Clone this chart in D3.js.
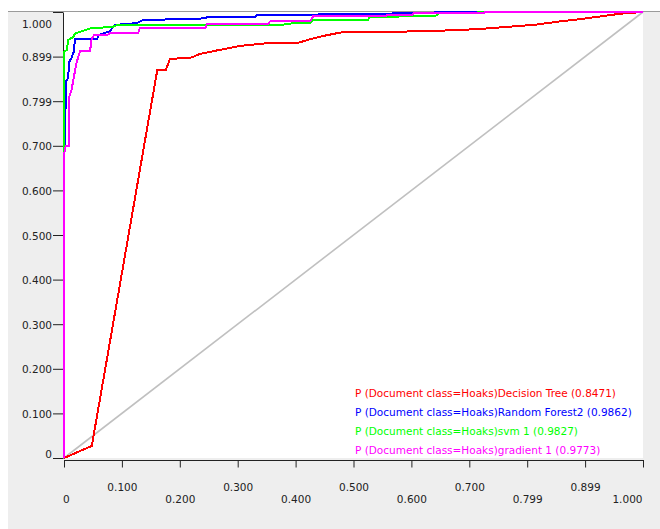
<!DOCTYPE html>
<html>
<head>
<meta charset="utf-8">
<script src="https://cdn.jsdelivr.net/npm/d3@7"></script>
<style>
  html, body { margin: 0; padding: 0; background: #ffffff; }
  svg { display: block; }
  text { font-family: "DejaVu Sans", sans-serif; font-size: 10.5px; }
</style>
</head>
<body>
<svg id="chart" width="660" height="529"></svg>
<script>
// ---- data (false positive rate, true positive rate) ----
const decisionTree = [
  [0,0],[0.048,0.027],[0.161,0.869],[0.176,0.870],[0.183,0.895],[0.218,0.897],
  [0.235,0.906],[0.261,0.913],[0.304,0.924],[0.351,0.930],[0.402,0.930],[0.425,0.939],
  [0.454,0.948],[0.482,0.955],[0.585,0.956],[0.672,0.959],[0.718,0.962],[0.770,0.967],
  [0.817,0.972],[0.857,0.979],[0.891,0.984],[0.926,0.990],[0.960,0.996],[1,1]
];
const randomForest = [
  [0,0],[0.001,0.785],[0.003,0.785],[0.003,0.843],[0.007,0.852],[0.009,0.888],
  [0.013,0.897],[0.017,0.911],[0.019,0.939],[0.057,0.939],[0.060,0.948],[0.079,0.957],
  [0.088,0.971],[0.126,0.975],[0.136,0.982],[0.235,0.985],[0.252,0.989],[0.330,0.989],
  [0.333,0.993],[0.437,0.993],[0.442,0.996],[0.563,0.996],[0.572,0.998],[0.649,0.999],[1,1]
];
const svm = [
  [0,0],[0,0.910],[0.005,0.915],[0.007,0.937],[0.016,0.944],[0.019,0.952],
  [0.045,0.963],[0.085,0.967],[0.092,0.971],[0.390,0.972],[0.394,0.976],[0.425,0.976],
  [0.430,0.982],[0.525,0.982],[0.528,0.989],[0.641,0.991],[0.649,0.998],[0.724,0.999],[1,1]
];
const gradient = [
  [0,0],[0,0.679],[0.003,0.700],[0.009,0.700],[0.009,0.809],[0.013,0.825],
  [0.017,0.854],[0.022,0.888],[0.028,0.913],[0.045,0.913],[0.048,0.941],[0.052,0.948],
  [0.074,0.948],[0.079,0.952],[0.128,0.952],[0.131,0.964],[0.244,0.964],[0.247,0.973],
  [0.352,0.973],[0.356,0.979],[0.425,0.979],[0.430,0.990],[0.554,0.990],[0.558,0.993],
  [0.601,0.993],[0.604,0.997],[0.724,0.997],[0.727,1.0],[1,1]
];
const diagonal = [[0,0],[1,1]];

const seriesNames = [
  "P (Document class=Hoaks)Decision Tree",
  "P (Document class=Hoaks)Random Forest2",
  "P (Document class=Hoaks)svm 1",
  "P (Document class=Hoaks)gradient 1"
];
const seriesAuc = ["0.8471", "0.9862", "0.9827", "0.9773"];
const seriesColors = ["#ff0000", "#0000ff", "#00ff00", "#ff00ff"];
const seriesData = [decisionTree, randomForest, svm, gradient];

const tickValues = [0, 0.1, 0.2, 0.3, 0.4, 0.5, 0.6, 0.7, 0.8, 0.9, 1.0];
const xTickLabels = ["0","0.100","0.200","0.300","0.400","0.500","0.600","0.700","0.799","0.899","1.000"];
const yTickLabels = ["0","0.100","0.200","0.300","0.400","0.500","0.600","0.700","0.799","0.899","1.000"];

// ---- layout ----
const svg = d3.select("#chart");
const W = 660, H = 529;
const plot = { left: 64, right: 643, top: 12, bottom: 458 };

const x = d3.scaleLinear().domain([0, 1]).range([plot.left, plot.right]);
const y = d3.scaleLinear().domain([0, 1]).range([plot.bottom, plot.top]);

// panel background
svg.append("rect").attr("x", 0).attr("y", 0).attr("width", W).attr("height", H).attr("fill", "#ffffff");
svg.append("rect").attr("x", 8).attr("y", 12).attr("width", W - 8).attr("height", H - 12).attr("fill", "#eeeeee");
svg.append("rect").attr("x", plot.left).attr("y", plot.top)
  .attr("width", plot.right - plot.left).attr("height", plot.bottom - plot.top).attr("fill", "#ffffff");
// top border
svg.append("line").attr("x1", 8).attr("x2", W).attr("y1", 11.5).attr("y2", 11.5)
  .attr("stroke", "#9a9a9a").attr("stroke-width", 1);

// y axis
const yAxis = d3.axisLeft(y).tickValues(tickValues)
  .tickFormat((d, i) => yTickLabels[i]).tickSize(10).tickSizeOuter(0).tickPadding(1);
const gy = svg.append("g").attr("transform", "translate(63,0)").call(yAxis);
gy.selectAll("path, line").attr("stroke", "#222");
gy.selectAll("text").attr("fill", "#222").attr("dy", "0.38em")
  .style("font-family", "DejaVu Sans").style("font-size", "10.5px");
gy.selectAll(".tick").filter(d => d === 1).select("text").attr("dy", null).attr("y", 15);
gy.selectAll(".tick").filter(d => d === 0).select("text").attr("dy", null).attr("y", -0.5);

// x axis
const xAxis = d3.axisBottom(x).tickValues(tickValues)
  .tickFormat((d, i) => xTickLabels[i]).tickSize(7.5).tickSizeOuter(0);
const gx = svg.append("g").attr("transform", "translate(0,460)").call(xAxis);
gx.selectAll("path, line").attr("stroke", "#222");
gx.selectAll("text").attr("fill", "#222").attr("dy", null)
  .style("font-family", "DejaVu Sans").style("font-size", "10.5px")
  .attr("y", (d, i) => (i % 2 === 1 ? 31 : 42.5));
gx.selectAll(".tick").filter(d => d === 0).select("text").attr("text-anchor", "start").attr("x", -1.5);
gx.selectAll(".tick").filter(d => d === 1).select("text").attr("text-anchor", "end").attr("x", -1);

// curves
const line = d3.line().x(d => x(d[0])).y(d => y(d[1]));
svg.append("path").datum(diagonal).attr("d", line)
  .attr("fill", "none").attr("stroke", "#c0c0c0").attr("stroke-width", 1.6);

seriesData.forEach((data, i) => {
  svg.append("path").datum(data).attr("d", line)
    .attr("fill", "none").attr("stroke", seriesColors[i])
    .attr("stroke-width", 2).attr("stroke-linejoin", "miter")
    .attr("shape-rendering", "crispEdges");
});

// legend
const legend = svg.append("g");
seriesNames.forEach((name, i) => {
  legend.append("text")
    .attr("x", 355).attr("y", 396.5 + i * 19.1)
    .attr("fill", seriesColors[i])
    .text(name + " (" + seriesAuc[i] + ")");
});
</script>
</body>
</html>
